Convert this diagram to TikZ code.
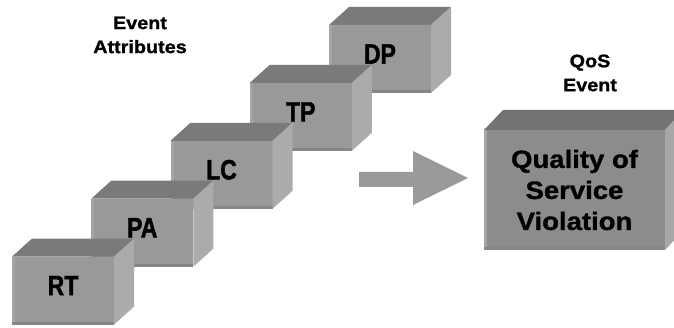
\documentclass[tikz,border=0pt]{standalone}
\usepackage{fontspec}
\setmainfont{Liberation Sans}
\newfontfamily\labelfont[FakeStretch=0.82,FakeBold=1.5]{Liberation Sans}
\newfontfamily\headfont[FakeStretch=1.1,FakeBold=1.2]{Liberation Sans}

\definecolor{frontgray}{HTML}{999999}
\definecolor{topgray}{HTML}{7A7A7A}
\definecolor{sidegray}{HTML}{ABABAB}
\definecolor{bevlight}{HTML}{A5A5A5}
\definecolor{bevdark}{HTML}{868686}
\definecolor{qosfront}{HTML}{8C8C8C}
\definecolor{qostop}{HTML}{737373}
\definecolor{qosside}{HTML}{A8A8A8}
\definecolor{arrowgray}{HTML}{9A9A9A}

% top and right faces of a box: node, depth x, depth y, top colour, side colour
\newcommand{\boxsides}[5]{%
\fill[#4] (#1.north west) -- ([shift={(#2,#3)}]#1.north west) -- ([shift={(#2,#3)}]#1.north east) -- (#1.north east) -- cycle;
\fill[#5] (#1.north east) -- ([shift={(#2,#3)}]#1.north east) -- ([shift={(#2,#3)}]#1.south east) -- (#1.south east) -- cycle;}

\begin{document}
\begin{tikzpicture}[x=1pt,y=1pt,
  bevel/.style={path picture={
    \fill[bevlight] (path picture bounding box.north west) rectangle ([xshift=3pt]path picture bounding box.south west);
    \fill[bevdark] (path picture bounding box.south west) rectangle ([yshift=3pt]path picture bounding box.south east);}},
  attrbox/.style={rectangle, fill=frontgray, minimum width=102pt, minimum height=68pt, inner sep=0pt, outer sep=0pt, bevel},
  qosbox/.style={rectangle, fill=qosfront, minimum width=181pt, minimum height=120pt, inner sep=0pt, outer sep=0pt, bevel,
    align=center, font=\headfont\bfseries\fontsize{25}{31}\selectfont},
  boxtext/.style={inner sep=0pt, font=\labelfont\bfseries\fontsize{28}{30}\selectfont},
  headtext/.style={inner sep=0pt, align=center, font=\headfont\bfseries\fontsize{18}{24}\selectfont}]
\clip (0,0) rectangle (674,328);

% Event attributes
\node[headtext] (attrlabel) at (140,293) {Event\\Attributes};

\foreach \lbl [count=\i] in {DP,TP,LC,PA,RT}{
  \node[attrbox] (\lbl) at ({380-79.25*(\i-1)},{269-57.9*(\i-1)}) {};
  \boxsides{\lbl}{20}{18}{topgray}{sidegray}
  \node[boxtext] (\lbl-text) at ([yshift=5pt]\lbl.center) {\lbl};
}

% Arrow
\fill[arrowgray] (359,156) -- (413,156) -- (413,177) -- (468,150) -- (413,123) -- (413,141) -- (359,141) -- cycle;

% QoS event
\node[headtext] (qoslabel) at (590,255) {QoS\\Event};
\node[qosbox] (qos) at (574.5,138) {Quality of\\Service\\Violation};
\boxsides{qos}{19}{20}{qostop}{qosside}

\end{tikzpicture}
\end{document}
